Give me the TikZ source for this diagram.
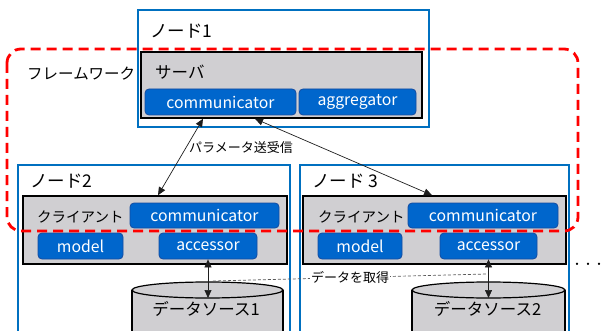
\documentclass[tikz,border=0pt]{standalone}
\usepackage{fontspec}
\setmainfont{Noto Sans CJK JP}
\usetikzlibrary{arrows.meta}
\definecolor{nodeblue}{RGB}{0,112,192}
\definecolor{boxfill}{RGB}{0,102,204}
\definecolor{boxline}{RGB}{20,75,160}
\definecolor{grayfill}{RGB}{208,207,210}
\definecolor{arrowgray}{RGB}{30,30,30}
\newcommand{\fs}[1]{\fontsize{#1}{#1}\selectfont}
\begin{document}
\begin{tikzpicture}[x=1pt,y=-1pt,
  nodebox/.style={draw=nodeblue, line width=1.2pt, fill=white, inner sep=0pt},
  graybox/.style={draw=black, line width=1.5pt, fill=grayfill, inner sep=0pt},
  bluebox/.style={draw=boxline, line width=0.8pt, fill=boxfill, rounded corners=4pt, text=white, inner sep=0pt, font=\fs{15.8}},
  lbl/.style={anchor=west, inner sep=0pt},
  cyl/.style={draw=black, line width=1.2pt, fill=grayfill},
  biarrow/.style={draw=arrowgray, line width=0.7pt, {Triangle[length=8pt,width=7pt]}-{Triangle[length=8pt,width=7pt]}},
  dataline/.style={draw=black!65, line width=0.7pt, dash pattern=on 3pt off 2pt},
  frame/.style={draw=red, line width=2.8pt, dash pattern=on 10pt off 6pt, rounded corners=14pt}
]
\useasboundingbox (0,0) rectangle (604,331);
\clip (0,0) rectangle (604,331);

% node boxes
\node[nodebox, minimum width=291pt, minimum height=117pt] (node1) at (283.5,68.5) {};
\node[nodebox, minimum width=272pt, minimum height=180pt] (node2) at (154,255) {};
\node[nodebox, minimum width=269pt, minimum height=180pt] (node3) at (434.5,255) {};
\node[lbl, font=\fs{17.5}] (n1lbl) at (150,31) {ノード1};
\node[lbl, font=\fs{17.5}] (n2lbl) at (30,181) {ノード2};
\node[lbl, font=\fs{17.5}] (n3lbl) at (312,181) {ノード 3};

% server
\node[graybox, minimum width=281pt, minimum height=66pt] (server) at (281.5,85) {};
\node[lbl, font=\fs{16.5}] (srvlbl) at (155,72) {サーバ};
\node[bluebox, minimum width=151pt, minimum height=26pt] (comm1) at (220.5,102) {communicator};
\node[bluebox, minimum width=117pt, minimum height=26pt] (aggr) at (357.5,102) {aggregator};

% clients
\node[graybox, minimum width=264pt, minimum height=68pt] (client2) at (155,230) {};
\node[lbl, font=\fs{14.5}] (c2lbl) at (37,216.5) {クライアント};
\node[bluebox, minimum width=149pt, minimum height=25pt] (comm2) at (204.5,215.5) {communicator};
\node[bluebox, minimum width=85pt, minimum height=26pt] (model2) at (80.5,246) {model};
\node[bluebox, minimum width=98pt, minimum height=26pt] (acc2) at (208,246) {accessor};

\node[graybox, minimum width=263pt, minimum height=68pt] (client3) at (434.5,230) {};
\node[lbl, font=\fs{14.5}] (c3lbl) at (318,216.5) {クライアント};
\node[bluebox, minimum width=150pt, minimum height=25pt] (comm3) at (483,215.5) {communicator};
\node[bluebox, minimum width=84pt, minimum height=26pt] (model3) at (360,246) {model};
\node[bluebox, minimum width=97pt, minimum height=26pt] (acc3) at (488.5,246) {accessor};

% data sources
\path[cyl] (132,290) -- (132,345) -- (283,345) -- (283,290);
\path[cyl] (207.5,290) ellipse (75.5 and 8);
\node[font=\fs{16.5}] (ds1) at (206,309) {データソース1};
\coordinate (ds1top) at (208,298);

\path[cyl] (412,290) -- (412,345) -- (565,345) -- (565,290);
\path[cyl] (488.5,290) ellipse (76.5 and 8);
\node[font=\fs{16.5}] (ds2) at (487.5,309) {データソース2};
\coordinate (ds2top) at (488.5,298);

% arrows
\draw[biarrow] ([xshift=-78.5pt]server.south) -- ([xshift=3pt]client2.north);
\draw[biarrow] ([xshift=-26.5pt]server.south) -- ([xshift=-2.5pt]client3.north);
\node[font=\fs{13}] (param) at (241,148) {パラメータ送受信};

\draw[biarrow] (acc2.south) -- (ds1top);
\draw[biarrow] (acc3.south) -- (ds2top);

\coordinate (dl) at (213,281);
\coordinate (dr) at (487,274);
\draw[dataline] (dl) -- node[fill=white, inner sep=1pt, font=\fs{13}] (getdata) {データを取得} (dr);

% framework frame
\draw[frame] (7,49) rectangle (578,231);
\node[lbl, font=\fs{15.5}] (fwlbl) at (27,74) {フレームワーク};

\node[font=\fs{11}, inner sep=0pt] (dots) at (588,266) {・・・};
\end{tikzpicture}
\end{document}
